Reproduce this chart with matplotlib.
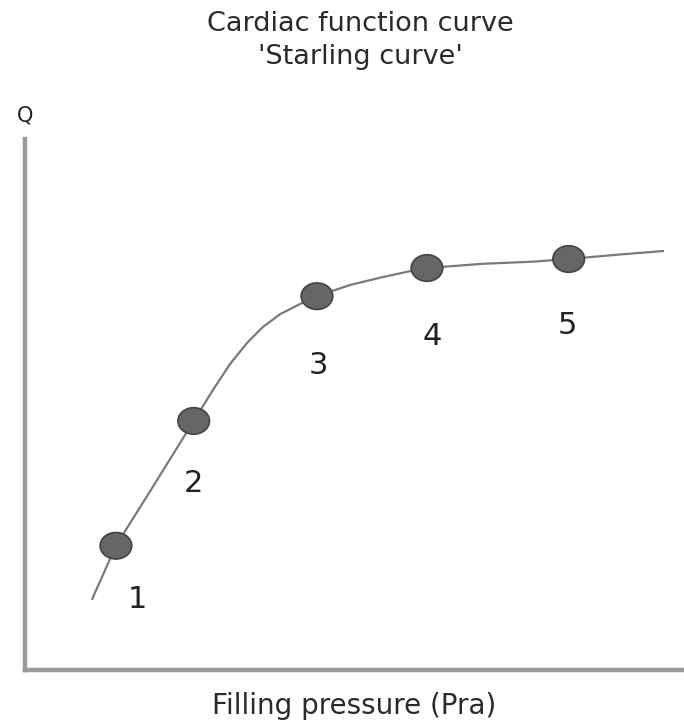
import numpy as np
import matplotlib.pyplot as plt
from matplotlib.patches import Ellipse

# Starling curve (arbitrary units 0..10)
curve_x = [1.02, 1.38, 1.94, 2.56, 2.85, 3.11, 3.37, 3.61, 3.87, 4.17, 4.43,
           4.93, 5.43, 5.80, 6.10, 6.95, 7.71, 8.25, 8.98, 9.68]
curve_y = [1.34, 2.34, 3.45, 4.69, 5.27, 5.76, 6.16, 6.46, 6.70, 6.89, 7.04,
           7.25, 7.40, 7.50, 7.57, 7.65, 7.69, 7.74, 7.82, 7.89]

# the five numbered points
pt_x = [1.38, 2.56, 4.43, 6.10, 8.25]
pt_y = [2.34, 4.69, 7.04, 7.57, 7.74]
pt_labels = ['1', '2', '3', '4', '5']
# label offsets (data units)
lab_dx = [0.33, 0.0, 0.02, 0.08, -0.02]
lab_dy = [-1.02, -1.17, -1.3, -1.28, -1.25]

fig = plt.figure(figsize=(6.84, 7.24), dpi=100)
ax = fig.add_axes([25/684, 54/724, 659/684, 531/724])
ax.set_xlim(0, 10)
ax.set_ylim(0, 10)

ax.plot(curve_x, curve_y, color='#7a7a7a', lw=1.6, zorder=2,
        solid_joinstyle='round')

for x, y in zip(pt_x, pt_y):
    ax.add_patch(Ellipse((x, y), 0.48, 0.5, facecolor='#666666',
                         edgecolor='#444444', lw=1.2, zorder=3))

for x, y, t, dx, dy in zip(pt_x, pt_y, pt_labels, lab_dx, lab_dy):
    ax.text(x + dx, y + dy, t, fontsize=22, color='#222222',
            ha='center', va='center')

for s in ['top', 'right']:
    ax.spines[s].set_visible(False)
for s in ['left', 'bottom']:
    ax.spines[s].set_color('#9a9a9a')
    ax.spines[s].set_linewidth(3.2)
ax.set_xticks([])
ax.set_yticks([])

fig.text(0.527, 1 - 31/724, 'Cardiac function curve', fontsize=19.5,
         color='#2a2a2a', ha='center', va='baseline')
fig.text(0.527, 1 - 64/724, "'Starling curve'", fontsize=19.5,
         color='#2a2a2a', ha='center', va='baseline')
fig.text(25/684, 1 - 116/724, 'Q', fontsize=15, color='#222222',
         ha='center', va='center')
fig.text(0.517, 1 - 714/724, 'Filling pressure (Pra)', fontsize=20,
         color='#2a2a2a', ha='center', va='baseline')

plt.savefig('out.png', dpi=100)
